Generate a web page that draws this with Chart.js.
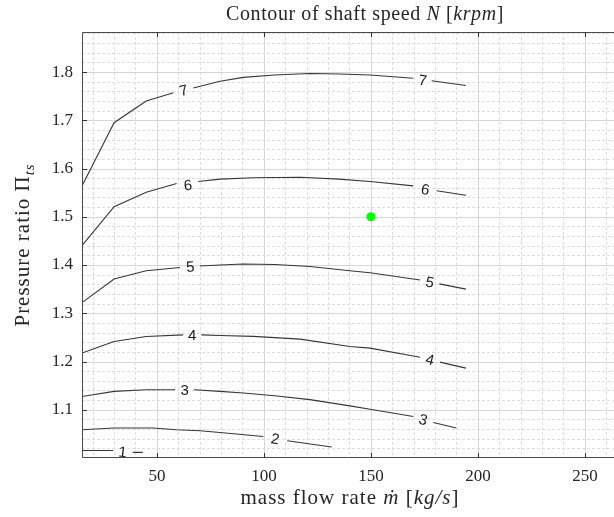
<!DOCTYPE html>
<html><head><meta charset="utf-8">
<script src="https://cdn.jsdelivr.net/npm/chart.js@4"></script>
<style>html,body{margin:0;padding:0;background:#fff;overflow:hidden}</style>
</head><body>
<canvas id="c" width="614" height="517"></canvas>
<script>
// ---------------- data ----------------
const xTickLabels = [50, 100, 150, 200, 250];
const yTickLabels = [1.1, 1.2, 1.3, 1.4, 1.5, 1.6, 1.7, 1.8];
const levels = [1, 2, 3, 4, 5, 6, 7];

const line1X = [15, 29.6, 34, 38.7, 43.4];
const line1Y = [1.0157, 1.0157, null, 1.0116, 1.0116];
const line2X = [15, 30, 48, 59.2, 70.1, 79.5, 99.7, 105, 110.9, 131.7];
const line2Y = [1.0586, 1.0621, 1.0621, 1.0586, 1.0565, 1.053, 1.0447, null, 1.0358, 1.0228];
const line3X = [15, 30, 45, 58.5, 63, 67.3, 79.5, 90.4, 105, 121.5, 140.2, 149.6, 169.8, 174.5, 179.2, 189.9];
const line3Y = [1.1275, 1.138, 1.1414, 1.1414, null, 1.1414, 1.138, 1.1346, 1.129, 1.121, 1.108, 1.101, 1.086, null, 1.0737, 1.0621];
const line4X = [15, 30, 45, 62.3, 66.5, 70.8, 79.5, 95, 116.9, 140.2, 149.6, 173, 177.6, 182.3, 194.4];
const line4Y = [1.2175, 1.2415, 1.2518, 1.2553, null, 1.2553, 1.2538, 1.252, 1.2464, 1.231, 1.2277, 1.209, null, 1.1988, 1.1863];
const line5X = [15, 30, 45, 60.8, 65.6, 70.1, 79.5, 90.4, 105, 121.5, 140.2, 149.6, 173, 177.5, 182, 194.4];
const line5Y = [1.322, 1.371, 1.388, 1.395, null, 1.398, 1.400, 1.402, 1.401, 1.397, 1.388, 1.384, 1.369, null, 1.361, 1.350];
const line6X = [15, 30, 45, 59.2, 64.5, 69.3, 79.5, 95, 116.9, 135, 149.6, 169.8, 175.5, 180.7, 194.4];
const line6Y = [1.44, 1.521, 1.551, 1.569, null, 1.573, 1.578, 1.581, 1.582, 1.578, 1.573, 1.564, null, 1.554, 1.5445];
const line7X = [15, 30, 45, 57.7, 62.5, 67, 79.5, 90.4, 105, 121.5, 135, 149.6, 169.8, 174.2, 178.4, 194.4];
const line7Y = [1.564, 1.695, 1.740, 1.757, null, 1.767, 1.781, 1.789, 1.794, 1.797, 1.796, 1.794, 1.787, null, 1.782, 1.772];

const labelLevel = [7, 7, 6, 6, 5, 5, 4, 4, 3, 3, 2, 1];
const labelX = [62.5, 174.2, 64.5, 175.5, 65.6, 177.5, 66.5, 177.6, 63, 174.5, 105.3, 34];
const labelY = [1.762, 1.783, 1.566, 1.557, 1.397, 1.365, 1.255, 1.204, 1.141, 1.080, 1.040, 1.013];

const pointX = [150];
const pointY = [1.5];

const xMin = 15, xMax = 263.6, yMin = 1.0, yMax = 1.883;

// ---------------- build ----------------
const lineXs = [line1X, line2X, line3X, line4X, line5X, line6X, line7X];
const lineYs = [line1Y, line2Y, line3Y, line4Y, line5Y, line6Y, line7Y];
const datasets = levels.map((lv, i) => ({
  type: 'line',
  label: 'N=' + lv,
  data: lineXs[i].map((x, j) => ({x: x, y: lineYs[i][j]})),
  borderColor: '#363636',
  borderWidth: 1.1,
  pointRadius: 0,
  fill: false,
  spanGaps: false,
  tension: 0
}));
datasets.push({
  type: 'scatter',
  label: 'point',
  data: pointX.map((x, i) => ({x: x, y: pointY[i]})),
  backgroundColor: '#00ff00',
  borderWidth: 0,
  pointRadius: 4.5
});

const serif = '"Liberation Serif", "DejaVu Serif", serif';

function drawRich(ctx, parts, cx, cy, size, spacing) {
  ctx.save();
  ctx.textBaseline = 'alphabetic';
  ctx.textAlign = 'left';
  if ('letterSpacing' in ctx) ctx.letterSpacing = (spacing || 0) + 'px';
  let total = 0;
  const ws = parts.map(p => {
    const s = p.sub ? size * 0.7 : size;
    ctx.font = (p.it ? 'italic ' : '') + s + 'px ' + serif;
    const w = ctx.measureText(p.t).width;
    total += w;
    return w;
  });
  let x = cx - total / 2;
  parts.forEach((p, i) => {
    const s = p.sub ? size * 0.7 : size;
    ctx.font = (p.it ? 'italic ' : '') + s + 'px ' + serif;
    ctx.fillText(p.t, x, cy + size * 0.33 + (p.sub ? size * 0.25 : 0));
    x += ws[i];
  });
  ctx.restore();
}

const decor = {
  id: 'decor',
  beforeDatasetsDraw(chart) {
    const {ctx, chartArea: a, scales: {x, y}} = chart;
    ctx.save();
    ctx.beginPath();
    ctx.rect(a.left, a.top, a.right - a.left, a.bottom - a.top);
    ctx.clip();
    ctx.lineWidth = 1;
    ctx.strokeStyle = '#dedede';
    ctx.setLineDash([3, 2]);
    for (let v = 20; v < xMax; v += 10) {
      if (v % 50 === 0) continue;
      const px = Math.round(x.getPixelForValue(v)) + 0.5;
      ctx.beginPath(); ctx.moveTo(px, a.top); ctx.lineTo(px, a.bottom); ctx.stroke();
    }
    for (let k = 51; k * 0.02 < yMax; k++) {
      const v = k * 0.02;
      if (k % 5 === 0) continue;
      const py = Math.round(y.getPixelForValue(v)) + 0.5;
      ctx.beginPath(); ctx.moveTo(a.left, py); ctx.lineTo(a.right, py); ctx.stroke();
    }
    ctx.setLineDash([]);
    ctx.strokeStyle = '#d6d6d6';
    xTickLabels.forEach(v => {
      const px = Math.round(x.getPixelForValue(v)) + 0.5;
      ctx.beginPath(); ctx.moveTo(px, a.top); ctx.lineTo(px, a.bottom); ctx.stroke();
    });
    yTickLabels.forEach(v => {
      const py = Math.round(y.getPixelForValue(v)) + 0.5;
      ctx.beginPath(); ctx.moveTo(a.left, py); ctx.lineTo(a.right, py); ctx.stroke();
    });
    ctx.restore();
  },
  afterDatasetsDraw(chart) {
    const {ctx, scales: {x, y}} = chart;
    ctx.save();
    ctx.fillStyle = '#1a1a1a';
    ctx.font = '15px "Liberation Sans", Arial, sans-serif';
    ctx.textAlign = 'center';
    ctx.textBaseline = 'middle';
    labelLevel.forEach((lv, i) => {
      const li = levels.indexOf(lv);
      const xs = lineXs[li], ys = lineYs[li];
      let p0 = null, p1 = null;
      for (let j = 0; j < xs.length; j++) {
        if (ys[j] === null) continue;
        if (xs[j] < labelX[i]) p0 = j;
        else if (p1 === null) p1 = j;
      }
      let ang = 0;
      if (p0 !== null && p1 !== null) {
        const dx = x.getPixelForValue(xs[p1]) - x.getPixelForValue(xs[p0]);
        const dy = y.getPixelForValue(ys[p1]) - y.getPixelForValue(ys[p0]);
        ang = Math.atan2(dy, dx);
      }
      ctx.save();
      ctx.translate(x.getPixelForValue(labelX[i]), y.getPixelForValue(labelY[i]));
      ctx.rotate(ang);
      ctx.fillText(String(lv), 0, 1);
      ctx.restore();
    });
    ctx.restore();
  },
  afterDraw(chart) {
    const {ctx, chartArea: a, scales: {x, y}} = chart;
    ctx.save();
    ctx.strokeStyle = '#4a4a4a';
    ctx.lineWidth = 1;
    ctx.beginPath();
    ctx.moveTo(a.right, a.top + 0.5); ctx.lineTo(a.left + 0.5, a.top + 0.5);
    ctx.lineTo(a.left + 0.5, a.bottom - 0.5); ctx.lineTo(a.right, a.bottom - 0.5);
    ctx.stroke();
    ctx.strokeStyle = '#333';
    xTickLabels.forEach(v => {
      const px = Math.round(x.getPixelForValue(v)) + 0.5;
      ctx.beginPath(); ctx.moveTo(px, a.bottom); ctx.lineTo(px, a.bottom - 5); ctx.stroke();
      ctx.beginPath(); ctx.moveTo(px, a.top); ctx.lineTo(px, a.top + 5); ctx.stroke();
    });
    yTickLabels.forEach(v => {
      const py = Math.round(y.getPixelForValue(v)) + 0.5;
      ctx.beginPath(); ctx.moveTo(a.left, py); ctx.lineTo(a.left + 5, py); ctx.stroke();
    });
    ctx.fillStyle = '#262626';
    drawRich(ctx, [
      {t: 'Contour of shaft speed '}, {t: 'N', it: true}, {t: ' ['}, {t: 'krpm', it: true}, {t: ']'}
    ], 365, 13, 20, 0.6);
    drawRich(ctx, [
      {t: 'mass flow rate '}, {t: '\u1E41', it: true}, {t: ' ['}, {t: 'kg/s', it: true}, {t: ']'}
    ], 350, 497, 21, 1);
    ctx.save();
    ctx.translate(22, (a.top + a.bottom) / 2);
    ctx.rotate(-Math.PI / 2);
    drawRich(ctx, [
      {t: 'Pressure ratio \u03A0'}, {t: 'ts', it: true, sub: true}
    ], 0, 0, 21, 1);
    ctx.restore();
    ctx.restore();
  }
};

new Chart(document.getElementById('c'), {
  data: {datasets: datasets},
  options: {
    responsive: false,
    animation: false,
    layout: {autoPadding: false, padding: {top: 32, left: 0, right: 0, bottom: 0}},
    plugins: {legend: {display: false}, tooltip: {enabled: false}, title: {display: false}},
    scales: {
      x: {
        type: 'linear', min: xMin, max: xMax,
        afterBuildTicks: s => { s.ticks = xTickLabels.map(v => ({value: v})); },
        afterFit: s => { s.height = 59; s.paddingRight = 0; s.paddingLeft = 0; },
        grid: {display: false}, border: {display: false},
        ticks: {color: '#262626', padding: 0, maxRotation: 0, autoSkip: false,
                font: {family: serif, size: 17}, callback: v => String(v)}
      },
      y: {
        type: 'linear', min: yMin, max: yMax,
        afterBuildTicks: s => { s.ticks = yTickLabels.map(v => ({value: v})); },
        afterFit: s => { s.width = 82; s.paddingTop = 0; s.paddingBottom = 0; },
        grid: {display: false}, border: {display: false},
        ticks: {color: '#262626', padding: 1, autoSkip: false,
                font: {family: serif, size: 17}, callback: v => Number(v).toFixed(1)}
      }
    }
  },
  plugins: [decor]
});
</script>
</body></html>
